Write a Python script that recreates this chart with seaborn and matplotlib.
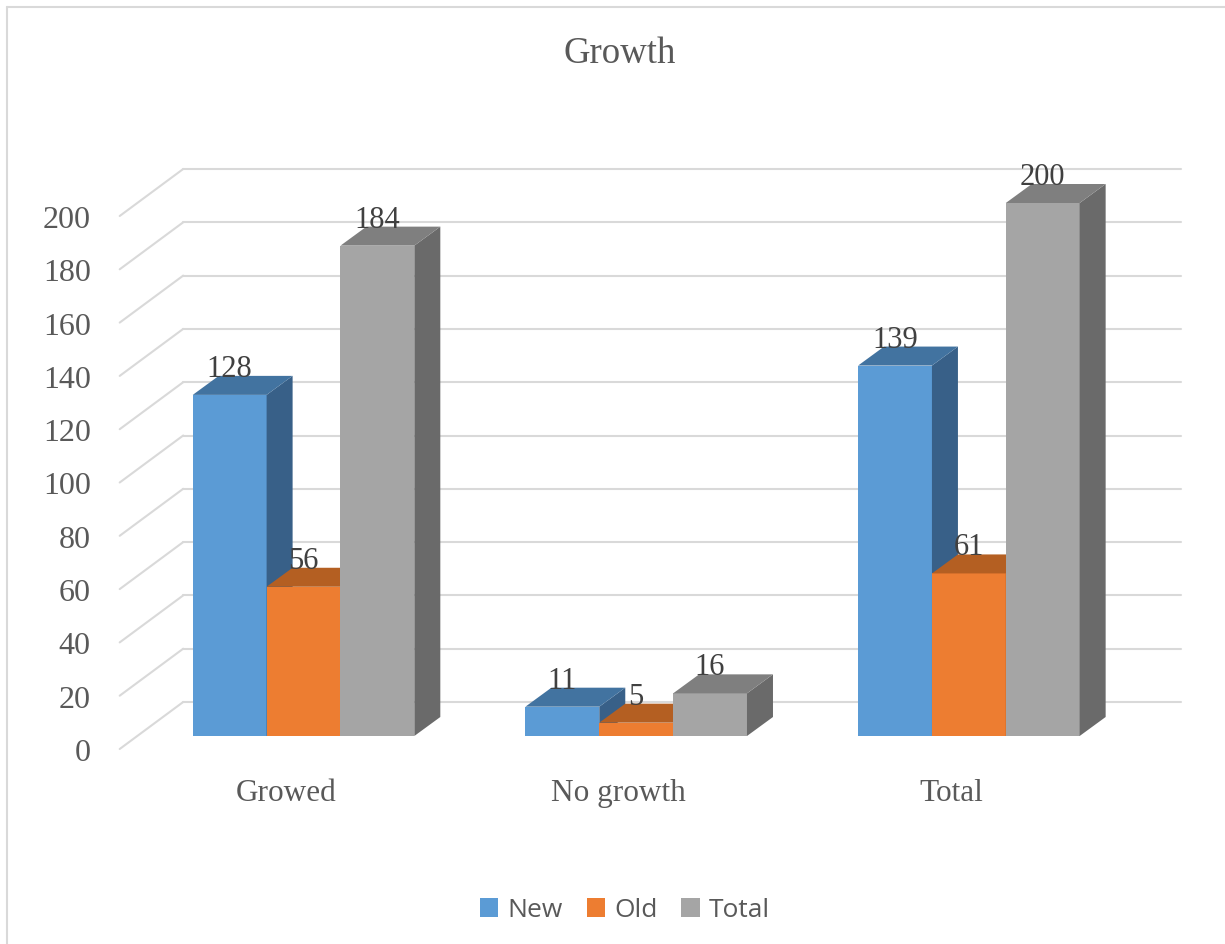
import numpy as np
import pandas as pd
import matplotlib
matplotlib.use("Agg")
import matplotlib.pyplot as plt
import seaborn as sns
from matplotlib.patches import Polygon, Patch
from matplotlib.lines import Line2D

# ---- data ----
categories = ["Growed", "No growth", "Total"]
series = ["New", "Old", "Total"]
new_vals = [128, 11, 139]
old_vals = [56, 5, 61]
total_vals = [184, 16, 200]
y_ticks = [0, 20, 40, 60, 80, 100, 120, 140, 160, 180, 200]
title = "Growth"

front_colors = ["#5B9BD5", "#ED7D31", "#A5A5A5"]
top_colors = ["#4273A0", "#B45F22", "#7F7F7F"]
side_colors = ["#386088", "#AE5A21", "#6A6A6A"]

df = pd.DataFrame({
    "category": categories * 3,
    "series": [s for s in series for _ in categories],
    "value": new_vals + old_vals + total_vals,
})

sns.set_theme(style="white")
plt.rcParams["font.family"] = ["Liberation Serif", "DejaVu Serif"]

W, H, DPI = 1225, 945, 100
fig = plt.figure(figsize=(W / DPI, H / DPI), dpi=DPI)
fig.patch.set_facecolor("white")

ax_left_px, ax_w_px = 137.2, 998.0
ax_bot_px, ax_top_px = 737.0, 204.0
ax = fig.add_axes([ax_left_px / W, (H - ax_bot_px) / H,
                   ax_w_px / W, (ax_bot_px - ax_top_px) / H])

sns.barplot(data=df, x="category", y="value", hue="series",
            hue_order=series, order=categories,
            palette=front_colors, saturation=1, width=0.666,
            linewidth=0, legend=False, ax=ax, zorder=3)

xmin, xmax, ymin, ymax = -0.5, 2.5, 0, 200
ax.set_xlim(xmin, xmax)
ax.set_ylim(ymin, ymax)
ax.set_axis_off()

# pixel -> data unit scales
sx = ax_w_px / (xmax - xmin)
sy = (ax_bot_px - ax_top_px) / (ymax - ymin)

def px(dx, dy):
    return dx / sx, dy / sy

bar_d = px(26, 19)
wall_d = px(46, 34)
floor_d = px(-17.5, -13)

grid_c = "#D9D9D9"
for v in y_ticks:
    ax.add_line(Line2D([xmin + wall_d[0], xmax + wall_d[0]],
                       [v + wall_d[1], v + wall_d[1]],
                       color=grid_c, lw=1.5, zorder=1, clip_on=False))
    ax.add_line(Line2D([xmin + floor_d[0], xmin + wall_d[0]],
                       [v + floor_d[1], v + wall_d[1]],
                       color=grid_c, lw=1.5, zorder=1, clip_on=False))
    ax.text(xmin + floor_d[0] - 29 / sx, v + floor_d[1], str(v),
            ha="right", va="center_baseline", fontsize=23,
            color="#595959", clip_on=False)

# 3D faces and labels
for j, cont in enumerate(ax.containers):
    z = 3 + j * 0.1
    for bar in cont:
        bar.set_zorder(z)
        bar.set_clip_on(False)
        x0, w, h = bar.get_x(), bar.get_width(), bar.get_height()
        dx, dy = bar_d
        side = Polygon([(x0 + w, 0), (x0 + w + dx, dy), (x0 + w + dx, h + dy), (x0 + w, h)],
                       closed=True, facecolor=side_colors[j], edgecolor="none",
                       zorder=z, clip_on=False)
        top = Polygon([(x0, h), (x0 + w, h), (x0 + w + dx, h + dy), (x0 + dx, h + dy)],
                      closed=True, facecolor=top_colors[j], edgecolor="none",
                      zorder=z, clip_on=False)
        ax.add_patch(side)
        ax.add_patch(top)
        ax.text(x0 + w / 2, h + dy, f"{int(round(h))}", ha="center", va="baseline",
                fontsize=22, color="#404040", zorder=10, clip_on=False)

# category labels
for i, c in enumerate(categories):
    ax.text(i + floor_d[0], -53 / sy, c, ha="center", va="center_baseline",
            fontsize=22.5, color="#595959", clip_on=False)

# title
fig.text(620 / W, 1 - 63 / H, title, ha="center", va="baseline",
         fontsize=26.5, color="#595959")

# legend
handles = [Patch(facecolor=c, edgecolor="none") for c in front_colors]
fig.legend(handles, series, loc="center", bbox_to_anchor=(625 / W, 1 - 911 / H),
           ncol=3, frameon=False, prop={"family": "Open Sans", "size": 19},
           labelcolor="#595959", handlelength=0.7, handleheight=0.7,
           handletextpad=0.35, columnspacing=0.9, borderaxespad=0)

# chart border (top and left visible)
bc = "#D9D9D9"
fig.add_artist(Line2D([7 / W, 1.0], [1 - 8 / H, 1 - 8 / H], color=bc, lw=1.5,
                      transform=fig.transFigure))
fig.add_artist(Line2D([7 / W, 7 / W], [0.0, 1 - 8 / H], color=bc, lw=1.5,
                      transform=fig.transFigure))

fig.savefig("out.png", dpi=DPI, facecolor="white")
